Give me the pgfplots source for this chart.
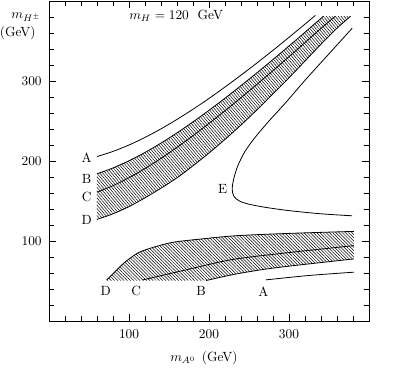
\documentclass[border=0pt]{standalone}
\usepackage{pgfplots}
\pgfplotsset{compat=1.18}
\usepgfplotslibrary{fillbetween}
\usetikzlibrary{patterns.meta}
\begin{document}
\begin{tikzpicture}
\begin{axis}[
  scale only axis, width=240pt, height=240pt, at={(0,0)}, anchor=south west,
  xmin=0, xmax=400, ymin=0, ymax=400,
  xtick={100,200,300}, ytick={100,200,300},
  minor xtick={20,40,60,80,120,140,160,180,220,240,260,280,320,340,360,380},
  minor ytick={20,40,60,80,120,140,160,180,220,240,260,280,320,340,360,380},
  tick align=inside,
  xtick pos=both, ytick pos=both,
  major tick length=5.5pt, minor tick length=4pt,
  tick style={black, line width=0.5pt},
  axis line style={line width=0.6pt},
  xticklabel style={yshift=-3pt}, yticklabel style={xshift=-2pt},
  clip=false,
]
% upper band
\addplot[draw=none, name path=Bu, smooth] coordinates {(60,184) (80,191.3) (100,200.3) (120,210.7) (140,222.4) (160,235.2) (180,248.9) (200,263.4) (220,278.5) (240,294.2) (260,310.3) (280,326.9) (300,343.8) (320,360.9) (343,381)};
\addplot[draw=none, name path=Du, smooth] coordinates {(60,127) (80,134) (100,143) (120,154) (140,166) (160,179) (180,194) (200,210) (220,227) (240,245) (260,264) (280,284) (300,304) (320,325) (340,346) (360,366) (377,381)};
\addplot[pattern={Lines[angle=-50,distance=1.7pt,line width=0.38pt]}, draw=none] fill between[of=Bu and Du];
% lower band
\addplot[draw=none, name path=Dl, smooth] coordinates {(72,51) (78,57) (84,63) (92,71) (102,79) (113,86) (130,92) (155,98.4) (190,102.5) (234,106.6) (300,109.5) (381,112)};
\addplot[draw=none, name path=base] coordinates {(72,50.6) (381,50.6)};
\addplot[draw=none, name path=base2] coordinates {(150,46) (381,46)};
\addplot[draw=none, name path=Bl, smooth] coordinates {(196.4,50.6) (230,58) (265,64) (304,69) (381,77.6)};
\addplot[pattern={Lines[angle=-45,distance=1.7pt,line width=0.38pt]}, draw=none] fill between[of=Dl and base];
\addplot[fill=white, draw=none] fill between[of=Bl and base2];
% curves
\addplot[black, line width=0.6pt, smooth] coordinates {(60,205.5) (80,212) (100,220) (120,229.5) (140,240.2) (160,252) (180,264.7) (200,278.2) (220,292.5) (240,307.3) (260,322.6) (280,338.4) (300,354.6) (320,371.1) (333,382)};
\addplot[black, line width=0.6pt, smooth] coordinates {(60,184) (80,191.3) (100,200.3) (120,210.7) (140,222.4) (160,235.2) (180,248.9) (200,263.4) (220,278.5) (240,294.2) (260,310.3) (280,326.9) (300,343.8) (320,360.9) (343,381)};
\addplot[black, line width=0.6pt, smooth] coordinates {(60,161) (80,169.2) (100,179.1) (120,190.6) (140,203.3) (160,217.1) (180,231.7) (200,247) (220,262.8) (240,279.2) (260,295.9) (280,313) (300,330.4) (320,348) (340,365.8) (358,381)};
\addplot[black, line width=0.6pt, smooth] coordinates {(60,127) (80,134) (100,143) (120,154) (140,166) (160,179) (180,194) (200,210) (220,227) (240,245) (260,264) (280,284) (300,304) (320,325) (340,346) (360,366) (377,381)};
\addplot[black, line width=0.6pt, smooth] coordinates {(379,366) (350,334) (321,302) (295,272) (275,250) (258,230) (245,212) (236,194) (231,178) (229,165) (231,156) (238,150) (250,146) (271,142) (300,138) (340,134) (379,131.5)};
\addplot[black, line width=0.6pt, smooth] coordinates {(72,51) (78,57) (84,63) (92,71) (102,79) (113,86) (130,92) (155,98.4) (190,102.5) (234,106.6) (300,109.5) (381,112)};
\addplot[black, line width=0.6pt, smooth] coordinates {(117.5,51.4) (150,59) (176,65) (230,77) (304,86) (381,94.2)};
\addplot[black, line width=0.6pt, smooth] coordinates {(196.4,50.6) (230,58) (265,64) (304,69) (381,77.6)};
\addplot[black, line width=0.6pt, smooth] coordinates {(271,51.4) (326,57) (381,61)};
% labels
\node at (axis cs:47,204.6) {A};
\node at (axis cs:47,177.5) {B};
\node at (axis cs:47,155.5) {C};
\node at (axis cs:47,126.3) {D};
\node at (axis cs:71,37) {D};
\node at (axis cs:109,37) {C};
\node at (axis cs:190,37) {B};
\node at (axis cs:268,37) {A};
\node at (axis cs:217,165) {E};
\node[anchor=base west, inner sep=0pt] at (axis cs:100,376.5) {$m_H = 120$\ \ GeV};
\node at (axis cs:-28.5,380) {$m_{H^\pm}$};
\node at (axis cs:-39,360) {(GeV)};
\node[anchor=base, inner sep=0pt] at (axis cs:193.6,-50.7) {$m_{A^0}$\hspace{4.5pt}(GeV)};
\end{axis}
\pgfresetboundingbox
\path[use as bounding box] (-36.75pt,-35.25pt) rectangle (276.75pt,240.75pt);
\end{tikzpicture}
\end{document}
